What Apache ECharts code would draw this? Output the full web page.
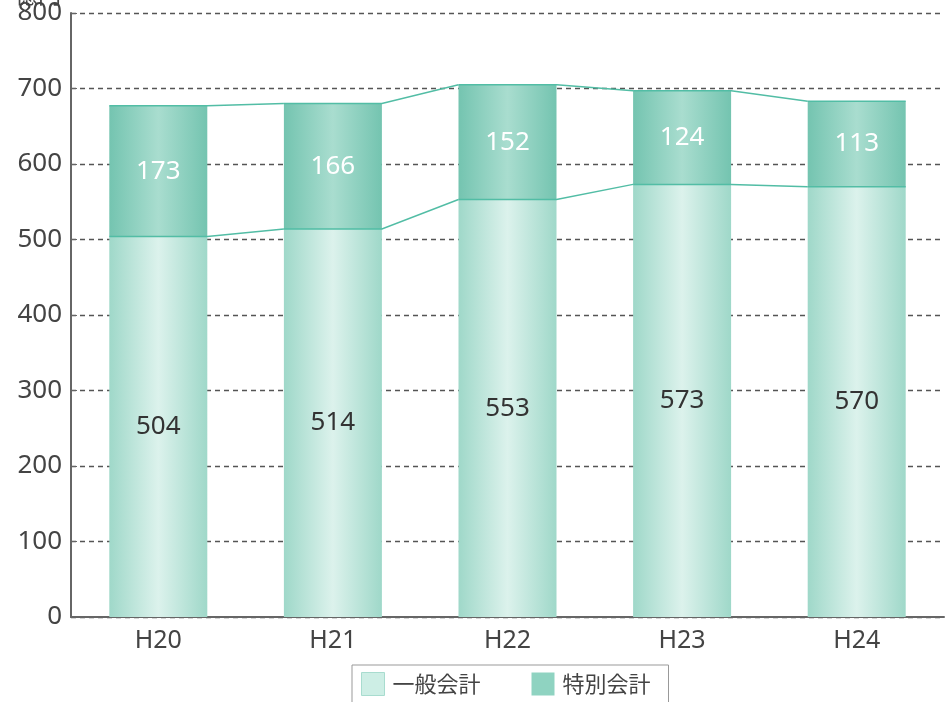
<!DOCTYPE html>
<html>
<head>
<meta charset="utf-8">
<script src="https://cdn.jsdelivr.net/npm/echarts@6/dist/echarts.min.js"></script>
<style>
  html, body { margin: 0; padding: 0; background: #fff; }
  #chart { width: 947px; height: 702px; }
</style>
</head>
<body>
<div id="chart"></div>
<script>
// データ（億円）
const years = ['H20', 'H21', 'H22', 'H23', 'H24']
const general = [504, 514, 553, 573, 570]   // 一般会計
const special = [173, 166, 152, 124, 113]   // 特別会計
const yTicks = [0, 100, 200, 300, 400, 500, 600, 700, 800]

const FONT = '"Noto Sans", "Noto Sans CJK JP", sans-serif'
const BAR_W = 98
const LINE_COLOR = '#52bda5'

const totals = general.map((v, i) => v + special[i])

// 横方向グラデーション
function hGrad(edge, mid) {
  return new echarts.graphic.LinearGradient(0, 0, 1, 0, [
    { offset: 0, color: edge },
    { offset: 0.5, color: mid },
    { offset: 1, color: edge }
  ])
}

// 棒の上端と棒同士をつなぐ線
function renderLinks(params, api) {
  const i = params.dataIndex
  const children = []
  const half = BAR_W / 2
  ;[general, totals].forEach(arr => {
    const p = api.coord([i, arr[i]])
    const pts = [[p[0] - half, p[1]], [p[0] + half, p[1]]]
    if (i < years.length - 1) {
      const q = api.coord([i + 1, arr[i + 1]])
      pts.push([q[0] - half, q[1]])
    }
    children.push({
      type: 'polyline',
      shape: { points: pts },
      style: { stroke: LINE_COLOR, lineWidth: 1.5, fill: null }
    })
  })
  return { type: 'group', children }
}

const chart = echarts.init(document.getElementById('chart'))
const option = {
  animation: false,
  textStyle: { fontFamily: FONT },
  grid: { left: 71, right: 3, top: 11, bottom: 85 },
  graphic: [{
    type: 'text', left: 15, top: -17,
    style: { text: '億円', fontSize: 23, fill: '#444', fontFamily: '"Noto Sans CJK JP", sans-serif' }
  }],
  legend: {
    left: 352, top: 665,
    data: [
      { name: '一般会計', itemStyle: { color: '#cdeee5', borderColor: '#a8dccf', borderWidth: 1 } },
      { name: '特別会計', itemStyle: { color: '#8fd3c1' } }
    ],
    icon: 'rect', itemWidth: 23, itemHeight: 23, itemGap: 51,
    borderColor: '#999', borderWidth: 1,
    padding: [7, 18, 10, 9],
    textStyle: { fontSize: 22, color: '#444', fontFamily: '"Noto Sans CJK JP", sans-serif', padding: [0, 0, 0, 3] }
  },
  xAxis: {
    type: 'category',
    data: years,
    axisLine: { lineStyle: { color: '#666', width: 2 } },
    axisTick: { show: false },
    axisLabel: { fontSize: 25, color: '#444', margin: 11 }
  },
  yAxis: {
    type: 'value',
    min: yTicks[0], max: yTicks[yTicks.length - 1], interval: 100,
    axisLine: { show: true, lineStyle: { color: '#666', width: 2 } },
    axisTick: { show: true, length: 6, inside: true, lineStyle: { color: '#666' } },
    axisLabel: { fontSize: 26, color: '#444', margin: 9 },
    splitLine: { lineStyle: { color: '#555', type: [5, 4], width: 1.3 } }
  },
  series: [
    {
      name: '一般会計', type: 'bar', stack: 'total', barWidth: BAR_W,
      data: general,
      itemStyle: { color: hGrad('#9fd8c9', '#dcf2ec') },
      label: { show: true, position: 'inside', fontSize: 26, color: '#333' }
    },
    {
      name: '特別会計', type: 'bar', stack: 'total', barWidth: BAR_W,
      data: special,
      itemStyle: { color: hGrad('#74c4b0', '#a9ddcf') },
      label: { show: true, position: 'inside', fontSize: 26, color: '#fff' }
    },
    {
      type: 'custom', silent: true, z: 5,
      data: years.map((y, i) => [i, totals[i]]),
      renderItem: renderLinks
    }
  ]
}
option && chart.setOption(option, true)
</script>
</body>
</html>
